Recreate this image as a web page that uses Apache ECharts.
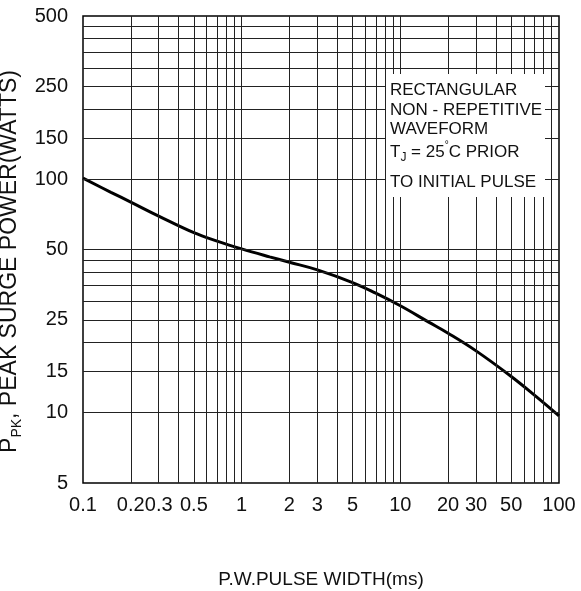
<!DOCTYPE html>
<html>
<head>
<meta charset="utf-8">
<script src="https://cdn.jsdelivr.net/npm/echarts@6/dist/echarts.min.js"></script>
<style>html,body{margin:0;padding:0;background:#fff}#c{width:581px;height:591px}</style>
</head>
<body>
<div id="c"></div>
<script>
// Data
const pulseWidth = [0.1, 0.15, 0.2, 0.3, 0.5, 0.7, 1, 1.5, 2, 3, 5, 7, 10, 15, 20, 30, 50, 70, 100];
const peakPower  = [101, 87.9, 79.8, 69.5, 59.0, 54.3, 50.3, 46.5, 44.1, 40.9, 36.1, 32.5, 28.7, 24.5, 21.9, 18.4, 14.3, 11.9, 9.7];
// Tick labels
const xTickLabels = [0.1, 0.2, 0.3, 0.5, 1, 2, 3, 5, 10, 20, 30, 50, 100];
const yTickLabels = [5, 10, 15, 25, 50, 100, 150, 250, 500];
// Grid line positions
const xGridValues = [0.2,0.3,0.4,0.5,0.6,0.7,0.8,0.9,1,2,3,4,5,6,7,8,9,10,20,30,40,50,60,70,80,90];
const yGridValues = [10,15,20,25,30,35,40,45,50,100,150,200,250,300,350,400,450];
// Annotation lines
const noteLines = ['RECTANGULAR', 'NON - REPETITIVE', 'WAVEFORM', '{n|T}{s|J}{n| = 25}{sup|°}{n|C PRIOR}', 'TO INITIAL PULSE'];

const FONT = '"Liberation Sans", Arial, sans-serif';
const chart = echarts.init(document.getElementById('c'), null, {renderer: 'canvas'});

const gridLineData = [];
xGridValues.forEach(v => gridLineData.push({xAxis: v}));
yGridValues.forEach(v => gridLineData.push({yAxis: v}));

const noteY = [90, 110, 129, 152, 182];
const noteGraphics = [{
  type: 'rect', z: 10, shape: {x: 386, y: 74, width: 159, height: 123},
  style: {fill: '#fff'}
}];
noteLines.forEach((t, i) => {
  noteGraphics.push({
    type: 'text', z: 11, x: 390, y: noteY[i],
    style: {
      text: t, fill: '#111', font: '17px ' + FONT,
      verticalAlign: 'middle', align: 'left',
      rich: {
        n: {fontSize: 17, fontFamily: FONT, lineHeight: 24, color: '#111'},
        s: {fontSize: 12, fontFamily: FONT, lineHeight: 12, verticalAlign: 'bottom', color: '#111'},
        sup: {fontSize: 10, fontFamily: FONT, lineHeight: 10, verticalAlign: 'top', color: '#111'}
      }
    }
  });
});

chart.setOption({
  animation: false,
  backgroundColor: '#fff',
  grid: {left: 83, right: 22, top: 16, bottom: 108, show: true, borderColor: '#000', borderWidth: 1.5,
    backgroundColor: 'transparent', containLabel: false, outerBoundsMode: 'none'},
  xAxis: {
    type: 'log', logBase: 10, min: 0.1, max: 100,
    name: 'P.W.PULSE WIDTH(ms)', nameLocation: 'middle', nameGap: 87,
    nameTextStyle: {fontSize: 19, fontFamily: FONT, color: '#111'},
    axisLine: {show: false}, axisTick: {show: false}, splitLine: {show: false},
    axisLabel: {customValues: xTickLabels, fontSize: 20, fontFamily: FONT, color: '#111', margin: 12,
      formatter: v => String(v)}
  },
  yAxis: {
    type: 'log', logBase: 10, min: 5, max: 500,
    name: '{a|P}{b|PK}{a|, PEAK SURGE POWER(WATTS)}', nameLocation: 'middle', nameGap: 54,
    nameTextStyle: {fontFamily: FONT, color: '#111', padding: [0, 24, 0, 0],
      rich: {
        a: {fontSize: 23, fontFamily: FONT, lineHeight: 28, color: '#111'},
        b: {fontSize: 14, fontFamily: FONT, lineHeight: 16, verticalAlign: 'bottom', color: '#111'}
      }},
    axisLine: {show: false}, axisTick: {show: false}, splitLine: {show: false},
    axisLabel: {customValues: yTickLabels, fontSize: 20, fontFamily: FONT, color: '#111', margin: 15,
      formatter: v => String(v)}
  },
  graphic: noteGraphics,
  series: [
    {
      type: 'line', z: 1, data: pulseWidth.map((x, i) => [x, peakPower[i]]),
      lineStyle: {opacity: 0}, showSymbol: false, silent: true,
      markLine: {silent: true, symbol: ['none', 'none'], label: {show: false},
        lineStyle: {type: 'solid', color: '#222', width: 1}, emphasis: {disabled: true},
        data: gridLineData}
    },
    {
      type: 'line', z: 3, smooth: 0.4, showSymbol: false,
      data: pulseWidth.map((x, i) => [x, peakPower[i]]),
      lineStyle: {color: '#000', width: 3}
    }
  ]
});
</script>
</body>
</html>
